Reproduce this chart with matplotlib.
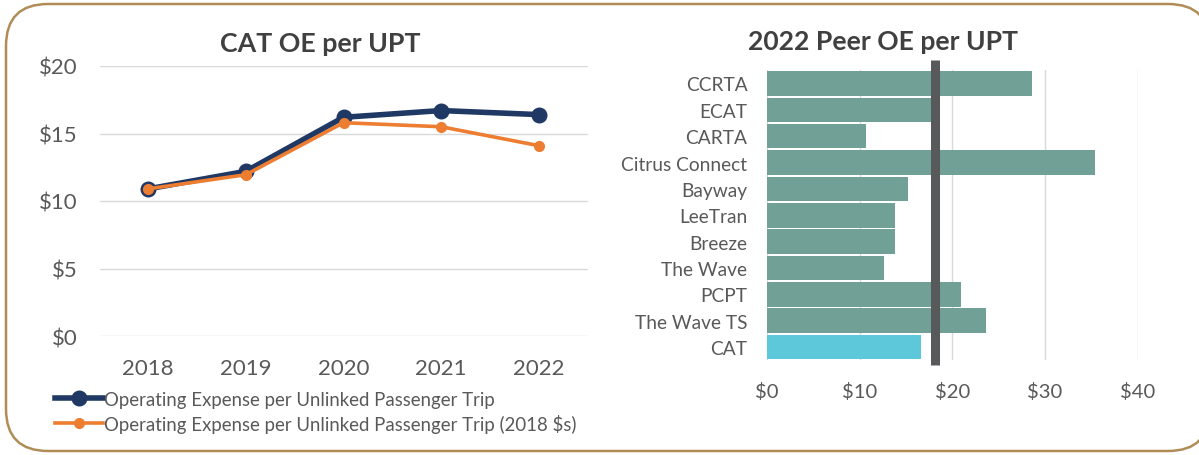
import matplotlib
matplotlib.use("Agg")
import matplotlib.pyplot as plt
from matplotlib.patches import FancyBboxPatch
from matplotlib.ticker import FuncFormatter

plt.rcParams['font.family'] = ['Lato', 'DejaVu Sans']

# ---- data ----
years = ["2018", "2019", "2020", "2021", "2022"]
oe_nominal = [10.9, 12.2, 16.2, 16.7, 16.4]
oe_2018 = [10.9, 11.95, 15.8, 15.5, 14.1]
series_labels = ["Operating Expense per Unlinked Passenger Trip",
                 "Operating Expense per Unlinked Passenger Trip (2018 $s)"]

peers = ["CCRTA", "ECAT", "CARTA", "Citrus Connect", "Bayway", "LeeTran",
         "Breeze", "The Wave", "PCPT", "The Wave TS", "CAT"]
peer_oe = [28.6, 17.7, 10.7, 35.4, 15.2, 13.8, 13.8, 12.6, 20.9, 23.6, 16.6]
peer_ref = 18.1
y_ticks_left = [0, 5, 10, 15, 20]
x_ticks_right = [0, 10, 20, 30, 40]

W, H = 1199, 456
fig = plt.figure(figsize=(W / 100, H / 100), dpi=100)
fig.patch.set_facecolor("white")

# rounded border drawn in a pixel-coordinate background axes
bg = fig.add_axes([0, 0, 1, 1], zorder=-5)
bg.set_xlim(0, W)
bg.set_ylim(H, 0)
bg.axis("off")
bg.add_patch(FancyBboxPatch((6, 5), 1210 - 6, 452 - 5,
                            boxstyle="round,pad=0,rounding_size=42",
                            facecolor="white", edgecolor="#B08D57", linewidth=1.8))

tick_color = "#595959"
grid_color = "#D9D9D9"

# ---- left: line chart ----
axl = fig.add_axes([99.5 / W, 1 - 337 / H, (587.5 - 99.5) / W, (337 - 67) / H])
axl.patch.set_alpha(0)
xs = list(range(len(years)))
axl.plot(xs, oe_nominal, color="#1F3864", lw=4, marker="o", ms=10.5,
         label=series_labels[0], zorder=3)
axl.plot(xs, oe_2018, color="#ED7D31", lw=2.6, marker="o", ms=7,
         label=series_labels[1], zorder=4)
axl.set_xlim(-0.5, len(years) - 0.5)
axl.set_ylim(0, 20)
axl.set_yticks(y_ticks_left)
axl.yaxis.set_major_formatter(FuncFormatter(lambda v, p: f"${v:.0f}"))
axl.set_xticks(xs)
axl.set_xticklabels(years)
axl.grid(axis="y", color=grid_color, lw=1)
axl.set_axisbelow(True)
for s in axl.spines.values():
    s.set_visible(False)
axl.tick_params(length=0, labelsize=16, colors=tick_color)
axl.tick_params(axis="y", pad=16)
axl.tick_params(axis="x", pad=16)
fig.text(320 / W, 1 - 44 / H, "CAT OE per UPT", ha="center", va="center",
         fontsize=19.3, fontweight="bold", color="#404040")
leg = fig.legend(loc="upper left", bbox_to_anchor=(55 / W, 1 - 392 / H),
                 frameon=False, fontsize=13.4, handlelength=2.6,
                 handletextpad=0.05, labelspacing=0.32, borderaxespad=0,
                 borderpad=0)
for t in leg.get_texts():
    t.set_color(tick_color)

# ---- right: bar chart ----
axr = fig.add_axes([766.9 / W, 1 - 361.2 / H, (1137.8 - 766.9) / W, (361.2 - 71.3) / H])
axr.patch.set_alpha(0)
ys = list(range(len(peers)))
colors = ["#70A096"] * (len(peers) - 1) + ["#5EC8DB"]
axr.barh(ys, peer_oe, height=0.93, color=colors, zorder=2)
axr.set_ylim(len(peers) - 0.5, -0.5)
axr.set_xlim(0, 40)
axr.set_yticks(ys)
axr.set_yticklabels(peers)
axr.set_xticks(x_ticks_right)
axr.xaxis.set_major_formatter(FuncFormatter(lambda v, p: f"${v:.0f}"))
axr.grid(axis="x", color=grid_color, lw=1, zorder=0)
axr.set_axisbelow(True)
for s in axr.spines.values():
    s.set_visible(False)
axr.tick_params(length=0, colors=tick_color)
axr.tick_params(axis="y", labelsize=13.8, pad=14)
axr.tick_params(axis="x", labelsize=14.6, pad=16)
axr.plot([peer_ref, peer_ref], [-0.88, len(peers) - 0.32], color="#58595B",
         lw=6.5, solid_capstyle="butt", clip_on=False, zorder=3)
fig.text(882.7 / W, 1 - 42 / H, "2022 Peer OE per UPT", ha="center", va="center",
         fontsize=19.1, fontweight="bold", color="#404040")

fig.savefig("out.png", dpi=100, facecolor="white")
